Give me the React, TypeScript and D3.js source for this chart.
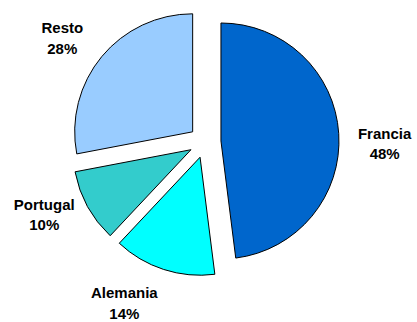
import React from "react";
import * as d3 from "d3";

const categories = ["Francia", "Alemania", "Portugal", "Resto"];
const values = [48, 14, 10, 28];
const colors = ["#0066CC", "#00FFFF", "#33CCCC", "#99CCFF"];

const W = 417;
const H = 322;
const CX = 205;
const CY = 142;
const R = 118;
const EXPLODE = 16;
const LABEL_R = 180;
const LINE_GAP = 20.7;
// visual nudges for label placement (Excel-style outside labels)
const labelNudge: Record<string, [number, number]> = {
  Francia: [0, 8],
  Alemania: [-25, -15],
  Portugal: [-3, -19],
  Resto: [-4, 6],
};

export default function App() {
  const data = categories.map((c, i) => ({ name: c, value: values[i], color: colors[i] }));
  const pie = d3.pie<any>().sort(null).value((d) => d.value).startAngle(0).endAngle(2 * Math.PI);
  const arcs = pie(data);
  const arc = d3.arc<any>().innerRadius(0).outerRadius(R);
  const total = d3.sum(values);

  return (
    <svg
      width={W}
      height={H}
      style={{ position: "absolute", left: 0, top: 0, display: "block" }}
      fontFamily="'Liberation Sans', Arial, sans-serif"
    >
      <rect width={W} height={H} fill="#fff" />
      {arcs.map((a, i) => {
        const mid = (a.startAngle + a.endAngle) / 2;
        const dx = Math.sin(mid) * EXPLODE;
        const dy = -Math.cos(mid) * EXPLODE;
        return (
          <path
            key={i}
            d={arc(a) as string}
            transform={`translate(${CX + dx},${CY + dy})`}
            fill={a.data.color}
            stroke="#000"
            strokeWidth={1}
            strokeLinejoin="round"
          />
        );
      })}
      {arcs.map((a, i) => {
        const mid = (a.startAngle + a.endAngle) / 2;
        const n = labelNudge[a.data.name] || [0, 0];
        const x = CX + Math.sin(mid) * LABEL_R + n[0];
        const y = CY - Math.cos(mid) * LABEL_R + n[1];
        const pct = Math.round((a.data.value / total) * 100) + "%";
        return (
          <text key={"l" + i} x={x} y={y} textAnchor="middle" fontSize={15} fontWeight="bold" fill="#000">
            <tspan x={x} dy={0}>{a.data.name}</tspan>
            <tspan x={x} dy={LINE_GAP}>{pct}</tspan>
          </text>
        );
      })}
    </svg>
  );
}
